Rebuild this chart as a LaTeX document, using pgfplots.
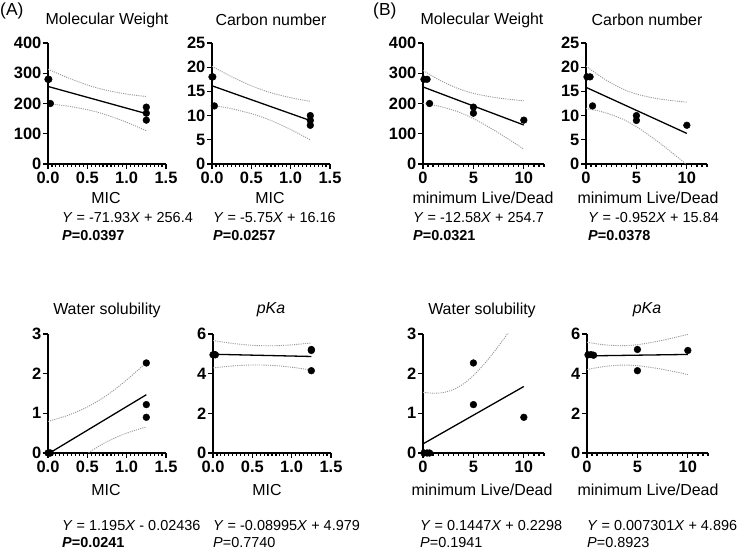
\documentclass[border=0pt]{standalone}
\usepackage{pgfplots}
\pgfplotsset{compat=1.18}
\usepackage{fontspec}
\setmainfont{Liberation Sans}
\newcommand{\fs}[1]{\fontsize{#1}{#1}\selectfont}

\pgfplotsset{
  prism/.style={
    scale only axis,
    anchor=south west,
    axis lines=left,
    axis line style={-, line width=1.7bp, black},
    every tick/.style={black, line width=1.2bp},
    major tick length=5bp,
    minor tick length=3bp,
    tick align=outside,
    /pgf/number format/assume math mode=true,
    ticklabel style={font=\fs{16.5}\bfseries},
    xticklabel style={inner sep=3bp},
    yticklabel style={inner sep=1.5bp},
    clip=true,
  },
  pA/.style={xmin=0, xmax=1.5, xtick={0,0.5,1,1.5}, xticklabels={0.0,0.5,1.0,1.5},
    minor xtick={0.05,0.1,...,1.46}, width=118bp},
  pB/.style={xmin=0, xmax=12, xtick={0,5,10}, xticklabels={0,5,10},
    minor xtick={0.5,1,...,12}, width=121bp},
  dots/.style={only marks, mark=*, mark size=3.4bp, black},
  fit/.style={no marks, black, line width=1.3bp},
  band/.style={no marks, gray!80, line width=0.9bp, dash pattern=on 1.1bp off 1.1bp, smooth},
}

\begin{document}
\begin{tikzpicture}
\useasboundingbox (0,0) rectangle (751bp,551bp);

% ---------- (A) Molecular Weight ----------
\begin{axis}[prism, pA, at={(48bp,387bp)}, height=121bp,
  ymin=0, ymax=400, ytick={0,100,200,300,400}]
\addplot[band] coordinates {(0,313.4) (0.25,285.3) (0.5,261.3) (0.63,251.1) (0.75,243.2) (1.0,231.1) (1.25,223.1)};
\addplot[band] coordinates {(0,199.4) (0.25,191.5) (0.5,179.5) (0.63,171.1) (0.75,161.8) (1.0,137.9) (1.25,109.9)};
\addplot[fit] coordinates {(0,256.4) (1.25,166.5)};
\addplot[dots] coordinates {(0,280) (0.01,280) (0.03,200) (1.25,188) (1.25,168) (1.25,145)};
\end{axis}

% ---------- (A) Carbon number ----------
\begin{axis}[prism, pA, at={(212bp,387bp)}, height=121bp,
  ymin=0, ymax=25, ytick={0,5,10,15,20,25}]
\addplot[band] coordinates {(0,20.18) (0.25,18.02) (0.5,16.16) (0.63,15.36) (0.75,14.72) (1.0,13.69) (1.25,12.95)};
\addplot[band] coordinates {(0,12.14) (0.25,11.42) (0.5,10.41) (0.63,9.72) (0.75,8.98) (1.0,7.13) (1.25,4.99)};
\addplot[fit] coordinates {(0,16.16) (1.25,8.97)};
\addplot[dots] coordinates {(0,18) (0.01,18) (0.03,12) (1.25,10) (1.25,9) (1.25,8)};
\end{axis}

% ---------- (B) Molecular Weight ----------
\begin{axis}[prism, pB, at={(423bp,387bp)}, height=121bp,
  ymin=0, ymax=400, ytick={0,100,200,300,400}]
\addplot[band] coordinates {(0,308.9) (1,289.3) (2,271.4) (3.525,248.9) (5,233.5) (7,220.5) (8.5,214.0) (10,208.9)};
\addplot[band] coordinates {(0,200.5) (1,194.9) (2,187.6) (3.525,171.9) (5,150.1) (7,112.7) (8.5,81.6) (10,48.9)};
\addplot[fit] coordinates {(0,254.7) (10,128.9)};
\addplot[dots] coordinates {(0.1,280) (0.4,280) (0.65,200) (5,188) (5,168) (10,145)};
\end{axis}

% ---------- (B) Carbon number ----------
\begin{axis}[prism, pB, at={(586bp,387bp)}, height=121bp,
  ymin=0, ymax=25, ytick={0,5,10,15,20,25}]
\addplot[band] coordinates {(0,20.23) (1,18.71) (2,17.33) (3.525,15.60) (5,14.45) (7,13.53) (8.5,13.10) (10,12.79)};
\addplot[band] coordinates {(0,11.46) (1,11.07) (2,10.55) (3.525,9.37) (5,7.71) (7,4.82) (8.5,2.39) (10,-0.15)};
\addplot[fit] coordinates {(0,15.84) (10,6.32)};
\addplot[dots] coordinates {(0.1,18) (0.4,18) (0.65,12) (5,10) (5,9) (10,8)};
\end{axis}

% ---------- (A) Water solubility ----------
\begin{axis}[prism, pA, at={(48bp,98bp)}, height=119bp,
  ymin=0, ymax=3, ytick={0,1,2,3}]
\addplot[band] coordinates {(0,0.795) (0.25,0.948) (0.5,1.160) (0.75,1.457) (1.0,1.840) (1.25,2.281)};
\addplot[band] coordinates {(0,-0.843) (0.25,-0.399) (0.5,-0.014) (0.75,0.287) (1.0,0.502) (1.25,0.657)};
\addplot[fit] coordinates {(0,-0.024) (1.25,1.469)};
\addplot[dots] coordinates {(0,0) (0.015,0) (0.03,0) (1.25,2.27) (1.25,1.22) (1.25,0.9)};
\end{axis}

% ---------- (A) pKa ----------
\begin{axis}[prism, pA, at={(213bp,98bp)}, height=119bp,
  ymin=0, ymax=6, ytick={0,2,4,6}]
\addplot[band] coordinates {(0,5.670) (0.25,5.525) (0.5,5.429) (0.75,5.406) (1.0,5.453) (1.25,5.552)};
\addplot[band] coordinates {(0,4.288) (0.25,4.389) (0.5,4.439) (0.75,4.418) (1.0,4.325) (1.25,4.182)};
\addplot[fit] coordinates {(0,4.979) (1.25,4.867)};
\addplot[dots] coordinates {(0,4.95) (0.015,4.97) (0.03,4.95) (1.25,5.22) (1.25,5.17) (1.25,4.15)};
\end{axis}

% ---------- (B) Water solubility ----------
\begin{axis}[prism, pB, at={(423bp,98bp)}, height=119bp,
  ymin=0, ymax=3, ytick={0,1,2,3}]
\addplot[band] coordinates {(0,1.530) (1,1.507) (2,1.524) (3,1.598) (4,1.741) (5,1.953) (6,2.223) (7,2.533) (8,2.870) (8.5,3.047)};
\addplot[fit] coordinates {(0,0.2298) (10,1.677)};
\addplot[dots] coordinates {(0.1,0) (0.4,0) (0.65,0) (5,2.27) (5,1.22) (10,0.9)};
\end{axis}

% ---------- (B) pKa ----------
\begin{axis}[prism, pB, at={(587bp,98bp)}, height=119bp,
  ymin=0, ymax=6, ytick={0,2,4,6}]
\addplot[band] coordinates {(0,5.584) (1,5.502) (2,5.442) (3.525,5.410) (5,5.461) (7,5.630) (8.5,5.798) (10,5.983)};
\addplot[band] coordinates {(0,4.208) (1,4.304) (2,4.379) (3.525,4.433) (5,4.404) (7,4.264) (8.5,4.118) (10,3.955)};
\addplot[fit] coordinates {(0,4.896) (10,4.969)};
\addplot[dots] coordinates {(0.1,4.95) (0.4,4.96) (0.65,4.93) (5,5.22) (5,4.15) (10,5.17)};
\end{axis}

% ---------- texts ----------
\node[anchor=west, inner sep=0, font=\fs{17.5}] at (0bp,540bp) {(A)};
\node[anchor=west, inner sep=0, font=\fs{17.5}] at (373bp,540bp) {(B)};

\begin{scope}[every node/.style={inner sep=0, font=\fs{16}}]
\node at (107bp,531bp) {Molecular Weight};
\node at (271bp,531bp) {Carbon number};
\node at (482bp,531bp) {Molecular Weight};
\node at (647bp,531bp) {Carbon number};
\node at (107bp,241bp) {Water solubility};
\node at (271bp,241bp) {\itshape pKa};
\node at (482bp,241bp) {Water solubility};
\node at (647bp,241bp) {\itshape pKa};
\node at (106bp,353bp) {MIC};
\node at (270bp,353bp) {MIC};
\node at (483bp,353bp) {minimum Live/Dead};
\node at (648bp,353bp) {minimum Live/Dead};
\node at (106bp,61bp) {MIC};
\node at (267bp,61bp) {MIC};
\node at (482bp,61bp) {minimum Live/Dead};
\node at (648bp,61bp) {minimum Live/Dead};
\end{scope}

\begin{scope}[every node/.style={inner sep=0, anchor=west, font=\fs{14.5}}]
\node at (62bp,333bp) {\textit{Y} = -71.93\textit{X} + 256.4};
\node at (62bp,315bp) {\bfseries\itshape P\upshape=0.0397};
\node at (213bp,333bp) {\textit{Y} = -5.75\textit{X} + 16.16};
\node at (213bp,315bp) {\bfseries\itshape P\upshape=0.0257};
\node at (413bp,333bp) {\textit{Y} = -12.58\textit{X} + 254.7};
\node at (413bp,315bp) {\bfseries\itshape P\upshape=0.0321};
\node at (588bp,333bp) {\textit{Y} = -0.952\textit{X} + 15.84};
\node at (588bp,315bp) {\bfseries\itshape P\upshape=0.0378};
\node at (62bp,25bp) {\textit{Y} = 1.195\textit{X} - 0.02436};
\node at (62bp,8.5bp) {\bfseries\itshape P\upshape=0.0241};
\node at (213bp,25bp) {\textit{Y} = -0.08995\textit{X} + 4.979};
\node at (213bp,8.5bp) {\textit{P}=0.7740};
\node at (420bp,25bp) {\textit{Y} = 0.1447\textit{X} + 0.2298};
\node at (420bp,8.5bp) {\textit{P}=0.1941};
\node at (587bp,25bp) {\textit{Y} = 0.007301\textit{X} + 4.896};
\node at (587bp,8.5bp) {\textit{P}=0.8923};
\end{scope}
\end{tikzpicture}
\end{document}
